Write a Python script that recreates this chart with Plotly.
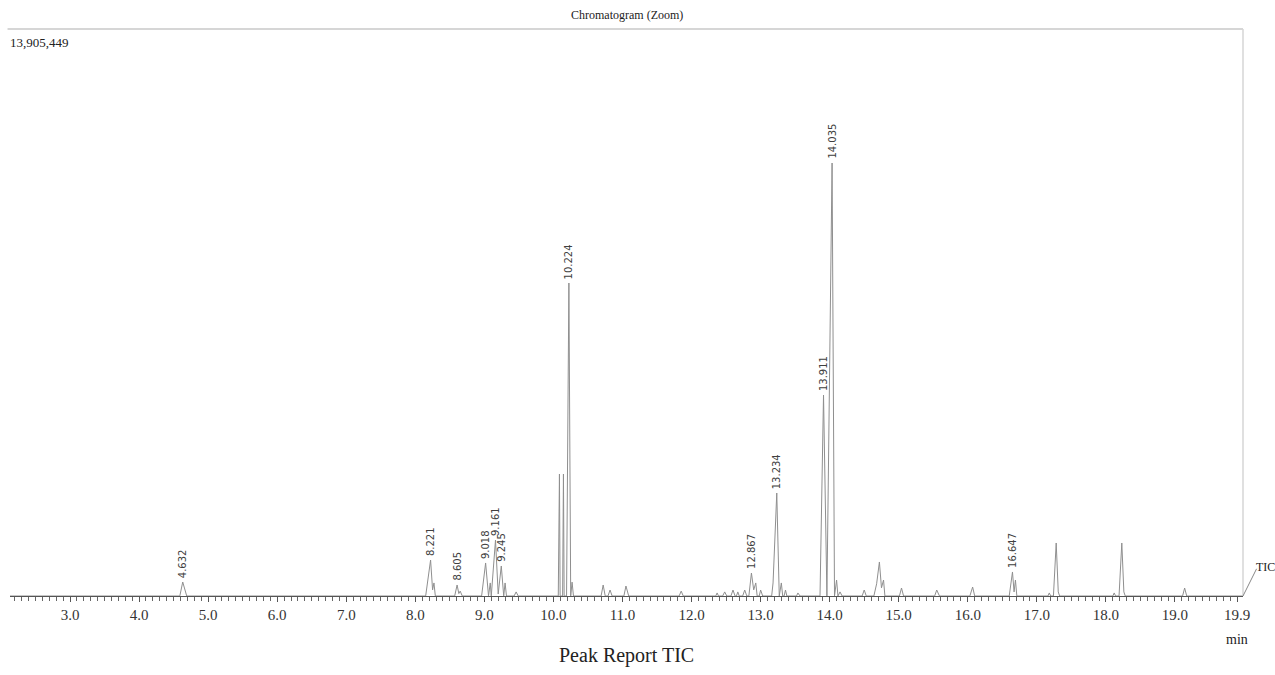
import plotly.graph_objects as go

# Total ion chromatogram, vertices of the trace (retention time in min, intensity in counts)
trace_rt = [
    2.131, 4.59, 4.632, 4.69,
    8.15, 8.221, 8.25, 8.27, 8.29,
    8.57, 8.605, 8.63, 8.65, 8.68,
    8.96, 9.018, 9.06, 9.085, 9.10, 9.161, 9.20, 9.245, 9.28, 9.30, 9.32,
    9.43, 9.46, 9.49,
    10.07, 10.087, 10.097, 10.133, 10.145, 10.155,
    10.19, 10.224, 10.25, 10.27, 10.29,
    10.69, 10.72, 10.75, 10.79, 10.82, 10.85,
    11.02, 11.05, 11.09,
    11.82, 11.85, 11.88,
    12.35, 12.37, 12.39, 12.45, 12.48, 12.51, 12.57, 12.60, 12.63,
    12.65, 12.67, 12.69, 12.74, 12.77, 12.80,
    12.83, 12.867, 12.90, 12.93, 12.95, 12.98, 13.00, 13.03,
    13.16, 13.18, 13.234, 13.27, 13.30, 13.32, 13.34, 13.36, 13.38,
    13.52, 13.54, 13.57,
    13.86, 13.911, 13.96, 14.035, 14.07, 14.10, 14.12, 14.15, 14.18,
    14.47, 14.50, 14.53,
    14.64, 14.68, 14.72, 14.75, 14.78, 14.80,
    15.01, 15.04, 15.07,
    15.52, 15.55, 15.59,
    16.03, 16.07, 16.10,
    16.60, 16.647, 16.67, 16.69, 16.71,
    17.16, 17.18, 17.20,
    17.24, 17.28, 17.31, 17.33,
    18.10, 18.12, 18.14,
    18.19, 18.23, 18.26, 18.28,
    19.11, 19.14, 19.17,
    19.985,
]
trace_int = [
    0, 0, 343000, 0,
    0, 883000, 150000, 320000, 0,
    0, 270000, 60000, 120000, 0,
    0, 810000, 0, 320000, 0, 1373000, 50000, 736000, 0, 320000, 0,
    0, 100000, 0,
    0, 2992000, 0, 0, 2992000, 0,
    0, 7676000, 0, 340000, 0,
    0, 270000, 0, 0, 147000, 0,
    0, 245000, 0,
    0, 120000, 0,
    0, 75000, 0, 0, 100000, 0, 0, 147000, 0,
    0, 100000, 0, 0, 147000, 0,
    0, 564000, 150000, 320000, 0, 0, 147000, 0,
    0, 320000, 2526000, 0, 320000, 0, 0, 147000, 0,
    0, 75000, 0,
    0, 4929000, 0, 10619000, 0, 392000, 0, 100000, 0,
    0, 147000, 0,
    0, 300000, 834000, 200000, 392000, 0,
    0, 196000, 0,
    0, 147000, 0,
    0, 220000, 0,
    0, 589000, 100000, 392000, 0,
    0, 75000, 0,
    0, 1300000, 100000, 0,
    0, 75000, 0,
    0, 1300000, 100000, 0,
    0, 196000, 0,
    0,
]

# Retention times reported in the peak table
peak_labels = [4.632, 8.221, 8.605, 9.018, 9.161, 9.245, 10.224,
               12.867, 13.234, 13.911, 14.035, 16.647]

# Axis ticks
tick_vals = [3.0, 4.0, 5.0, 6.0, 7.0, 8.0, 9.0, 10.0, 11.0, 12.0,
             13.0, 14.0, 15.0, 16.0, 17.0, 18.0, 19.0, 19.9]
tick_text = [f"{v:.1f}" for v in tick_vals]

x_range = [2.131, 19.985]
y_max = 13905449

SERIF = "Liberation Serif, Times New Roman, serif"

fig = go.Figure()
fig.add_trace(go.Scatter(
    x=trace_rt, y=trace_int, mode="lines",
    line=dict(color="#8f8f8f", width=1),
    hoverinfo="x+y", showlegend=False,
))

annotations = []
for rt in peak_labels:
    h = trace_int[trace_rt.index(rt)]
    annotations.append(dict(
        x=rt, y=h, xref="x", yref="y", text=f"{rt:.3f}",
        textangle=-90, showarrow=False, xanchor="center", yanchor="bottom",
        yshift=2, font=dict(family="DejaVu Sans, sans-serif", size=10, color="#404040"),
    ))

annotations += [
    dict(x=0.5, y=1, xref="paper", yref="paper", yshift=14, text="Chromatogram (Zoom)",
         showarrow=False, xanchor="center", yanchor="middle",
         font=dict(family=SERIF, size=12, color="#222")),
    dict(x=-0.002, y=1, xref="paper", yref="paper", yshift=-13, text="13,905,449",
         showarrow=False, xanchor="left", yanchor="middle",
         font=dict(family=SERIF, size=13, color="#222")),
    dict(x=0.5, y=0, xref="paper", yref="paper", yshift=-59, text="Peak Report TIC",
         showarrow=False, xanchor="center", yanchor="middle",
         font=dict(family=SERIF, size=20, color="#222")),
    dict(x=19.9, y=0, xref="x", yref="paper", yshift=-43, text="min",
         showarrow=False, xanchor="center", yanchor="middle",
         font=dict(family=SERIF, size=14, color="#222")),
    dict(x=1, y=0, xref="paper", yref="paper", xshift=11, yshift=29, text="TIC",
         showarrow=False, xanchor="left", yanchor="middle",
         font=dict(family=SERIF, size=12, color="#222")),
]

shapes = [
    # frame: top and right edges
    dict(type="line", xref="paper", yref="paper", x0=-0.002, x1=1, y0=1, y1=1,
         line=dict(color="#d6d6d6", width=2)),
    dict(type="line", xref="paper", yref="paper", x0=1, x1=1, y0=0, y1=1,
         line=dict(color="#d6d6d6", width=1.5)),
    # leader from baseline end to the trace name
    dict(type="line", xref="paper", yref="paper", x0=1, x1=1.011, y0=0, y1=0.048,
         line=dict(color="#888", width=1)),
]

fig.update_layout(
    width=1275, height=675,
    margin=dict(l=10, r=32, t=29, b=79, autoexpand=False),
    paper_bgcolor="white", plot_bgcolor="white",
    showlegend=False,
    xaxis=dict(
        range=x_range, showgrid=False, zeroline=False,
        showline=True, linecolor="#555", linewidth=1,
        ticks="outside", ticklen=5, tickcolor="#555", tickwidth=1,
        tickmode="array", tickvals=tick_vals, ticktext=tick_text,
        tickfont=dict(family=SERIF, size=15, color="#333"),
        minor=dict(ticks="outside", ticklen=4, tickcolor="#666", dtick=0.1, tick0=0,
                   showgrid=False),
    ),
    yaxis=dict(range=[0, y_max], visible=False, fixedrange=True),
    annotations=annotations,
    shapes=shapes,
)

fig.write_html("out.html")
